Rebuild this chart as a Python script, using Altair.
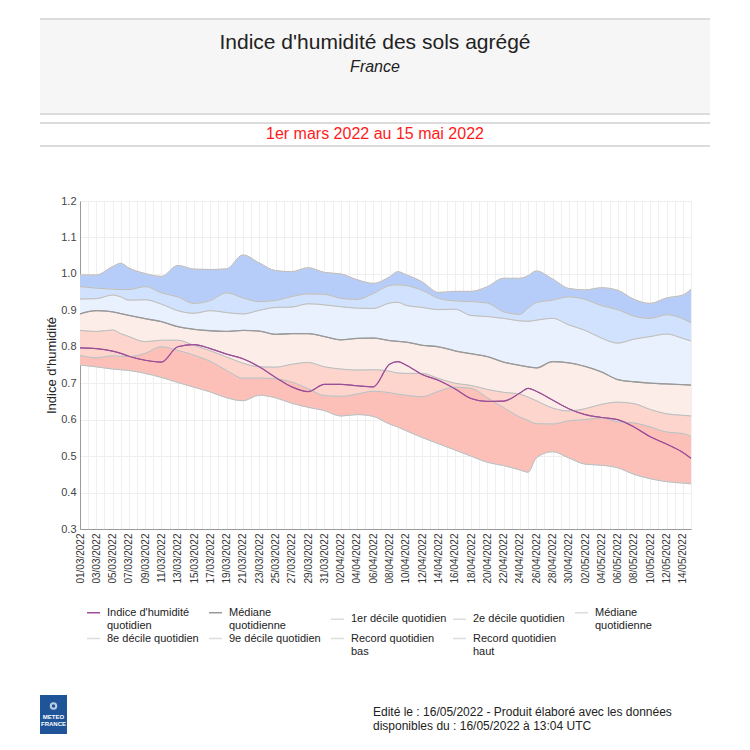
import altair as alt
import pandas as pd

# ---------------- data ----------------
dates = ["2022-03-01", "2022-03-03", "2022-03-05", "2022-03-06", "2022-03-07", "2022-03-09",
         "2022-03-11", "2022-03-13", "2022-03-15", "2022-03-17", "2022-03-19", "2022-03-21",
         "2022-03-23", "2022-03-25", "2022-03-27", "2022-03-29", "2022-03-31", "2022-04-02",
         "2022-04-04", "2022-04-06", "2022-04-08", "2022-04-09", "2022-04-10", "2022-04-12",
         "2022-04-14", "2022-04-16", "2022-04-18", "2022-04-20", "2022-04-22", "2022-04-24",
         "2022-04-25", "2022-04-26", "2022-04-28", "2022-04-30", "2022-05-02", "2022-05-04",
         "2022-05-06", "2022-05-08", "2022-05-10", "2022-05-12", "2022-05-14", "2022-05-15"]

record_haut = [0.997, 0.997, 1.020, 1.029, 1.016, 1.001, 0.993, 1.023, 1.013, 1.012, 1.014, 1.052,
               1.030, 1.009, 1.006, 1.017, 1.004, 1.000, 0.984, 0.974, 0.992, 1.006, 0.998, 0.978,
               0.949, 0.952, 0.952, 0.965, 0.988, 0.988, 0.995, 1.008, 0.986, 0.960, 0.956, 0.962,
               0.955, 0.930, 0.919, 0.934, 0.942, 0.958]
decile9 = [0.965, 0.961, 0.958, 0.957, 0.957, 0.965, 0.948, 0.937, 0.919, 0.927, 0.948, 0.934,
           0.924, 0.927, 0.938, 0.945, 0.944, 0.933, 0.930, 0.946, 0.968, 0.970, 0.968, 0.955,
           0.933, 0.926, 0.924, 0.920, 0.896, 0.889, 0.906, 0.921, 0.928, 0.937, 0.930, 0.913,
           0.902, 0.884, 0.878, 0.888, 0.877, 0.866]
decile8 = [0.931, 0.932, 0.942, 0.937, 0.928, 0.929, 0.917, 0.899, 0.892, 0.899, 0.894, 0.890,
           0.900, 0.908, 0.909, 0.918, 0.915, 0.910, 0.906, 0.905, 0.920, 0.922, 0.914, 0.908,
           0.902, 0.903, 0.886, 0.883, 0.878, 0.871, 0.870, 0.873, 0.878, 0.860, 0.845, 0.824,
           0.810, 0.821, 0.828, 0.835, 0.823, 0.816]
mediane = [0.890, 0.899, 0.896, 0.891, 0.886, 0.877, 0.869, 0.855, 0.848, 0.844, 0.842, 0.845,
           0.843, 0.834, 0.836, 0.836, 0.828, 0.819, 0.823, 0.824, 0.817, 0.815, 0.813, 0.804,
           0.800, 0.789, 0.781, 0.773, 0.758, 0.749, 0.745, 0.742, 0.759, 0.756, 0.746, 0.731,
           0.710, 0.704, 0.700, 0.698, 0.696, 0.695]
decile2 = [0.845, 0.842, 0.846, 0.836, 0.828, 0.814, 0.818, 0.818, 0.804, 0.789, 0.772, 0.755,
           0.745, 0.744, 0.752, 0.757, 0.745, 0.739, 0.736, 0.737, 0.733, 0.728, 0.727, 0.727,
           0.713, 0.700, 0.694, 0.683, 0.675, 0.670, 0.662, 0.652, 0.632, 0.624, 0.630, 0.642,
           0.648, 0.644, 0.628, 0.616, 0.612, 0.610]
decile1 = [0.776, 0.770, 0.775, 0.774, 0.773, 0.782, 0.800, 0.790, 0.777, 0.760, 0.735, 0.714,
           0.714, 0.712, 0.703, 0.685, 0.666, 0.664, 0.670, 0.678, 0.674, 0.670, 0.667, 0.663,
           0.678, 0.689, 0.686, 0.660, 0.633, 0.607, 0.598, 0.589, 0.588, 0.597, 0.600, 0.605,
           0.594, 0.591, 0.580, 0.566, 0.562, 0.554]
record_bas = [0.750, 0.745, 0.739, 0.737, 0.735, 0.727, 0.716, 0.702, 0.689, 0.676, 0.660, 0.652,
              0.667, 0.660, 0.645, 0.634, 0.625, 0.610, 0.614, 0.609, 0.588, 0.580, 0.570, 0.551,
              0.534, 0.517, 0.500, 0.483, 0.474, 0.462, 0.456, 0.495, 0.512, 0.495, 0.478, 0.475,
              0.468, 0.450, 0.438, 0.430, 0.426, 0.424]
indice = [0.797, 0.795, 0.788, 0.782, 0.774, 0.763, 0.758, 0.800, 0.806, 0.795, 0.780, 0.767,
          0.745, 0.716, 0.690, 0.677, 0.697, 0.697, 0.693, 0.690, 0.752, 0.759, 0.750, 0.724,
          0.708, 0.685, 0.658, 0.650, 0.651, 0.673, 0.686, 0.678, 0.654, 0.630, 0.614, 0.606,
          0.600, 0.580, 0.553, 0.533, 0.510, 0.494]

y_ticks = [0.3, 0.4, 0.5, 0.6, 0.7, 0.8, 0.9, 1.0, 1.1, 1.2]
first_day = "2022-03-01"
last_day = "2022-05-15"

legend_keys = ["ind", "med", "d1", "d2", "medb", "d8", "d9", "rb", "rh"]
legend_colors = ["#9b4f99", "#9a9a9a", "#dcdcdc", "#dcdcdc", "#dcdcdc", "#dcdcdc", "#dcdcdc",
                 "#dcdcdc", "#dcdcdc"]

FONT = "Liberation Sans, Arial, sans-serif"

# ---------------- tables ----------------
wide = pd.DataFrame({"date": dates, "rh": record_haut, "d9": decile9, "d8": decile8,
                     "med": mediane, "d2": decile2, "d1": decile1, "rb": record_bas,
                     "ind": indice})
long = wide.melt(id_vars="date", var_name="key", value_name="v")

day_ms = 86400000
start_ms = int(pd.Timestamp(first_day, tz="UTC").timestamp() * 1000)
end_ms = int(pd.Timestamp(last_day, tz="UTC").timestamp() * 1000)
tick_ms = [int(t.timestamp() * 1000) for t in pd.date_range(first_day, last_day, freq="D", tz="UTC")]

label_expr = ("(round((+datum.value - " + str(start_ms) + ") / " + str(day_ms) + ") % 2 == 0) ? "
              "utcFormat(datum.value, '%d/%m/%Y') : ''")

xscale = alt.Scale(type="utc", domain=[start_ms, end_ms])
xaxis = alt.Axis(values=tick_ms, labelExpr=label_expr, labelAngle=270, labelAlign="right",
                 labelBaseline="middle", labelFontSize=10, labelColor="#333", labelFont=FONT,
                 labelPadding=4, labelOverlap=False, labelFlush=False, ticks=False,
                 grid=True, gridColor="#efefef", domainColor="#9a9a9a", title=None)
yscale = alt.Scale(domain=[0.3, 1.2], nice=False, zero=False)
yaxis = alt.Axis(values=y_ticks, format=".1f", labelFontSize=11, labelColor="#444",
                 labelFont=FONT, ticks=False, labelPadding=4, grid=True, gridColor="#efefef",
                 domainColor="#9a9a9a", title="Indice d'humidité", titleFontSize=13,
                 titleFontWeight="normal", titleColor="#222", titleFont=FONT, titlePadding=2)


def X():
    return alt.X("date:T", scale=xscale, axis=xaxis)


def Y(field):
    return alt.Y(field + ":Q", scale=yscale, axis=yaxis)


base = alt.Chart(wide)

bands = [("rh", "d9", "#b7cdf9"), ("d9", "d8", "#d0e2fd"), ("d8", "med", "#e9f1fe"),
         ("med", "d2", "#fdede8"), ("d2", "d1", "#fdd5cc"), ("d1", "rb", "#fcc0b8")]
layers = []
for top, bot, col in bands:
    layers.append(base.mark_area(interpolate="monotone", color=col, opacity=1).encode(
        x=X(), y=Y(top), y2=alt.Y2(bot)))

legend_expr = ("datum.value == 'ind' ? [\"Indice d'humidité\", 'quotidien'] : "
               "datum.value == 'med' ? ['Médiane', 'quotidienne'] : "
               "datum.value == 'd1' ? '1er décile quotidien' : "
               "datum.value == 'd2' ? '2e décile quotidien' : "
               "datum.value == 'medb' ? ['Médiane', 'quotidienne'] : "
               "datum.value == 'd8' ? '8e décile quotidien' : "
               "datum.value == 'd9' ? '9e décile quotidien' : "
               "datum.value == 'rb' ? ['Record quotidien', 'bas'] : ['Record quotidien', 'haut']")

legend_layer = alt.Chart(long).mark_line(interpolate="monotone", strokeWidth=1).encode(
    x=X(), y=Y("v"),
    color=alt.Color("key:N", scale=alt.Scale(domain=legend_keys, range=legend_colors),
                    legend=alt.Legend(title=None, orient="none", legendX=6, legendY=404,
                                      direction="horizontal", columns=5, gridAlign="all",
                                      columnPadding=2, rowPadding=0, symbolType="stroke",
                                      symbolSize=170, symbolStrokeWidth=1.5,
                                      labelFontSize=11, labelColor="#222", labelFont=FONT,
                                      labelLimit=300, labelOffset=6, labelExpr=legend_expr)))
layers.append(legend_layer)

bounds = alt.Chart(long).transform_filter(
    alt.FieldOneOfPredicate(field="key", oneOf=["rh", "d9", "d8", "d2", "d1", "rb"])
).mark_line(interpolate="monotone", strokeWidth=1, color="#bdbdbd").encode(
    x=X(), y=Y("v"), detail="key:N")
layers.append(bounds)
layers.append(base.mark_line(interpolate="monotone", strokeWidth=1.3, color="#9a9a9a").encode(
    x=X(), y=Y("med")))
layers.append(base.mark_line(interpolate="monotone", strokeWidth=1.2, color="#9b4f99").encode(
    x=X(), y=Y("ind")))


# ---------------- page decorations (header, footer) ----------------
def one():
    return alt.Chart(alt.Data(values=[{}]))


layers.append(one().mark_rect(color="#f6f6f6").encode(
    x=alt.value(-40), x2=alt.value(630), y=alt.value(-182), y2=alt.value(-87)))
for yy in [-182, -87, -78, -55]:
    layers.append(one().mark_rule(color="#dcdcdc", strokeWidth=2).encode(
        x=alt.value(-40), x2=alt.value(630), y=alt.value(yy)))
layers.append(one().mark_text(text="Indice d'humidité des sols agrégé", fontSize=21,
                              font=FONT, color="#222", align="center", baseline="middle").encode(
    x=alt.value(295), y=alt.value(-158)))
layers.append(one().mark_text(text="France", fontSize=16, fontStyle="italic", font=FONT,
                              color="#222", align="center", baseline="middle").encode(
    x=alt.value(295), y=alt.value(-134)))
layers.append(one().mark_text(text="1er mars 2022 au 15 mai 2022", fontSize=16, font=FONT,
                              color="#ff1a1a", align="center", baseline="middle").encode(
    x=alt.value(295), y=alt.value(-67)))

# logo
layers.append(one().mark_rect(color="#1f5499").encode(
    x=alt.value(-40), x2=alt.value(-13), y=alt.value(494), y2=alt.value(533)))
layers.append(one().mark_point(shape="circle", filled=False, color="white", size=30,
                               strokeWidth=2).encode(x=alt.value(-26.5), y=alt.value(505)))
layers.append(one().mark_text(text="METEO", fontSize=6, fontWeight="bold", font=FONT,
                              color="white", align="center", baseline="middle").encode(
    x=alt.value(-26.5), y=alt.value(516)))
layers.append(one().mark_text(text="FRANCE", fontSize=6, fontWeight="bold", font=FONT,
                              color="white", align="center", baseline="middle").encode(
    x=alt.value(-26.5), y=alt.value(523)))
layers.append(one().mark_text(text="Edité le : 16/05/2022 - Produit élaboré avec les données",
                              fontSize=12, font=FONT, color="#222", align="left",
                              baseline="middle").encode(x=alt.value(293), y=alt.value(511)))
layers.append(one().mark_text(text="disponibles du : 16/05/2022 à 13:04 UTC",
                              fontSize=12, font=FONT, color="#222", align="left",
                              baseline="middle").encode(x=alt.value(293), y=alt.value(525)))

chart = alt.layer(*layers).properties(
    width=611, height=328,
    autosize=alt.AutoSizeParams(type="none"),
    padding={"left": 72, "top": 193, "right": 51, "bottom": 213},
    background="white",
).configure_view(stroke="#b5b5b5", strokeWidth=1)

chart.save("out.html", embed_options={"renderer": "svg", "actions": False})
